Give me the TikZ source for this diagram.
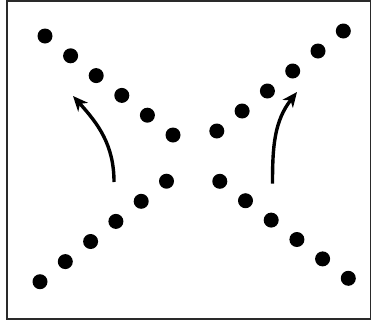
\documentclass[tikz,border=0pt]{standalone}
\usepackage{xcolor}
\usepackage{tikz}
\usetikzlibrary{positioning, arrows.meta}
\definecolor{framegray}{HTML}{2A2A2A}

\begin{document}
\begin{tikzpicture}[x=1pt, y=-1pt,
    dot/.style={circle, fill=black, inner sep=0pt, minimum size=15pt},
    flow/.style={line width=3.4pt, -{Stealth[length=15pt, width=13pt, inset=4.5pt]}}]
  \useasboundingbox (0,0) rectangle (372,322);
  \draw[framegray, line width=1.5pt] (7,1) rectangle (370.5,319);
  % the two crossing rows of dots
  \foreach \i in {1,...,6} {
    \node[dot] (ul\i) at ({45+25.6*(\i-1)}, {36+19.8*(\i-1)}) {};
    \node[dot] (ll\i) at ({40+25.3*(\i-1)}, {281.7-20.1*(\i-1)}) {};
    \node[dot] (ur\i) at ({343.3-25.3*(\i-1)}, {31+20*(\i-1)}) {};
    \node[dot] (lr\i) at ({348.3-25.7*(\i-1)}, {278.3-19.4*(\i-1)}) {};
  }
  % arrows
  \coordinate (lstart) at (114,182);
  \coordinate (ltip) at (73,96);
  \coordinate (rstart) at (272.5,183.5);
  \coordinate (rtip) at (297,92);
  \draw[flow] (lstart) to[out=90, in=-48] (ltip);
  \draw[flow] (rstart) to[out=90, in=-128] (rtip);
\end{tikzpicture}
\end{document}
